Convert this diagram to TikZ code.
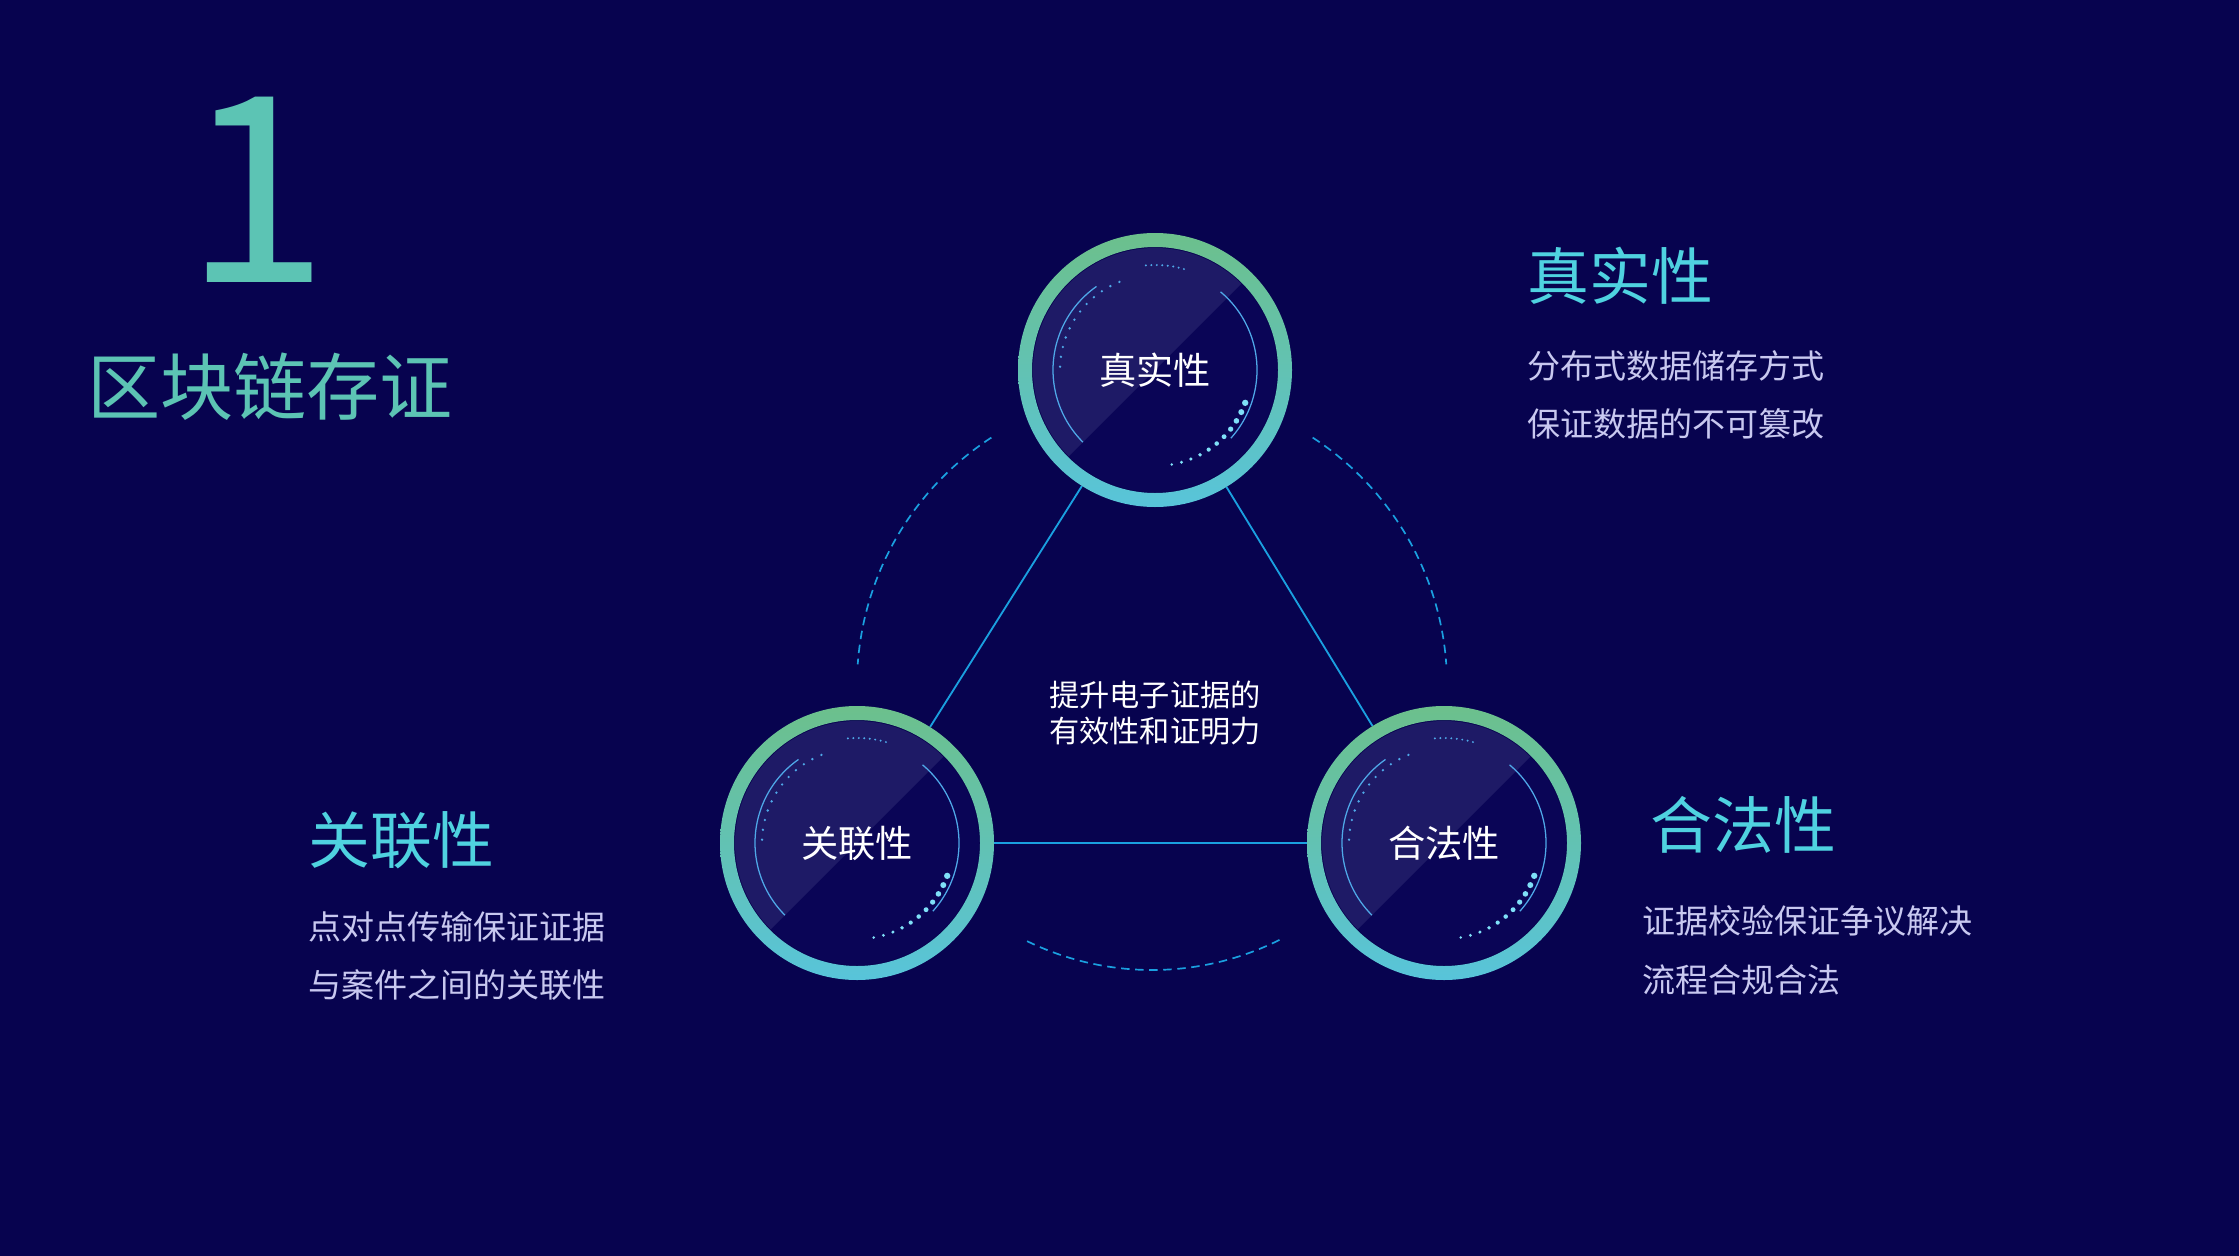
\documentclass[tikz,border=0pt]{standalone}
\usepackage{fontspec}
\setmainfont{Noto Sans CJK SC}
\newfontfamily\cjk{Noto Sans CJK SC}
\definecolor{bg}{HTML}{07034F}
\definecolor{discA}{HTML}{1E1A66}
\definecolor{discB}{HTML}{0A0556}
\definecolor{ringG}{HTML}{6CC08C}
\definecolor{ringC}{HTML}{58C4DA}
\definecolor{arcC}{HTML}{4FA8E8}
\definecolor{lineC}{HTML}{1AA0E0}
\definecolor{headC}{HTML}{4FD2E0}
\definecolor{subC}{HTML}{C8C8F0}
\definecolor{titleC}{HTML}{5CC4B4}
\definecolor{dotC}{HTML}{7FE0F8}
\tikzset{
  hub/.style={circle,minimum size=13.7cm,inner sep=0pt,font=\fontsize{53}{60}\selectfont,text=white},
  conn/.style={lineC,line width=2.6pt},
  darc/.style={lineC,line width=2.4pt,dash pattern=on 12pt off 8pt},
  head/.style={text=headC,font=\fontsize{88}{96}\selectfont},
  sub/.style={text=subC,font=\fontsize{47}{60}\selectfont,anchor=west,align=left}
}
\newcommand\ringdeco[1]{%
  \fill[discB] (#1) circle (122);
  \begin{scope}
    \clip (#1) circle (122);
    \fill[discA] ($(#1)+(-200,200)$) -- ($(#1)+(200,-200)$) -- ($(#1)+(-200,-200)$) -- cycle;
  \end{scope}
  \shade[even odd rule,top color=ringG,bottom color=ringC] (#1) circle (137) (#1) circle (123);
  \draw[arcC,line width=1.8pt] ($(#1)+(-125:102)$) arc (-125:-225:102);
  \draw[arcC,line width=1.8pt] ($(#1)+(-50:102)$) arc (-50:42:102);
  \foreach \a in {112,118,...,178} \fill[arcC] ($(#1)+(-\a:95)$) circle (1.3);
  \foreach \a in {74,77,...,96} \fill[arcC] ($(#1)+(-\a:105)$) circle (1.1);
  \foreach[count=\i] \a in {-80,-74,...,-20} \fill[dotC] ($(#1)+(-\a:96)$) circle ({1.2+\i*0.18});
}
\usetikzlibrary{calc}
\begin{document}
\begin{tikzpicture}[x=0.05cm,y=-0.05cm]
\fill[bg] (0,0) rectangle (2239,1256);
\useasboundingbox (0,0) rectangle (2239,1256);
\node[text=titleC,font=\fontsize{370}{370}\selectfont] (num) at (257,190) {1};
\node[text=titleC,font=\fontsize{104}{110}\selectfont] (title) at (270,387) {区块链存证};
% dashed arcs
\coordinate (g) at (1152,685);
\draw[darc] ($(g)+(-123:295)$) arc (-123:-176:295);
\draw[darc] ($(g)+(-57:295)$) arc (-57:-4:295);
\draw[darc] ($(g)+(116:285)$) arc (116:63:285);
% hubs
\coordinate (ct) at (1155,370);
\coordinate (cl) at (857,843);
\coordinate (cr) at (1444,843);
\node[hub] (t) at (ct) {};
\node[hub] (l) at (cl) {};
\node[hub] (r) at (cr) {};
\draw[conn] (t) -- (l);
\draw[conn] (t) -- (r);
\draw[conn] (l) -- (r);
\ringdeco{ct}
\ringdeco{cl}
\ringdeco{cr}
\node[hub] at (ct) {真实性};
\node[hub] at (cl) {关联性};
\node[hub] at (cr) {合法性};
\node[text=white,font=\fontsize{43}{51}\selectfont,align=center] (mid) at (1155,713) {提升电子证据的\\有效性和证明力};
% side texts
\node[head,anchor=west] (h1) at (1525,276) {真实性};
\node[sub] (s1a) at (1525,366) {分布式数据储存方式};
\node[sub] (s1b) at (1525,424) {保证数据的不可篡改};
\node[head,anchor=west] (h2) at (306,840) {关联性};
\node[sub] (s2a) at (306,927) {点对点传输保证证据};
\node[sub] (s2b) at (306,985) {与案件之间的关联性};
\node[head,anchor=west] (h3) at (1648,825) {合法性};
\node[sub] (s3a) at (1640,921) {证据校验保证争议解决};
\node[sub] (s3b) at (1640,980) {流程合规合法};
\end{tikzpicture}
\end{document}
